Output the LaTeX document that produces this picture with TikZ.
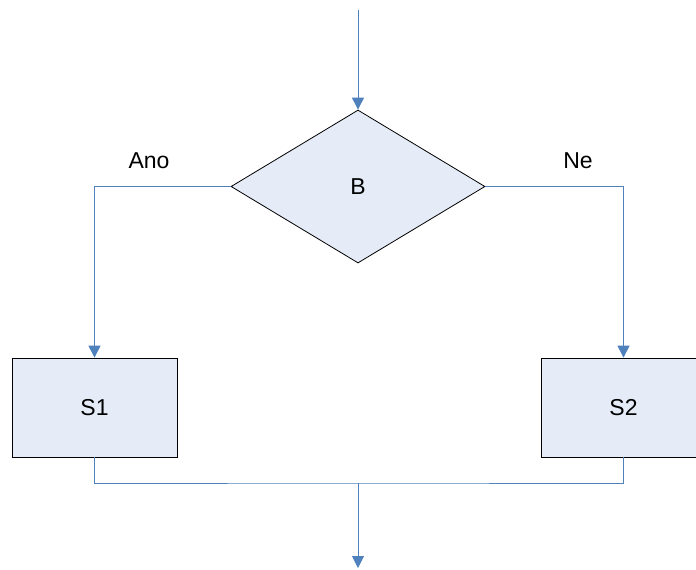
\documentclass[tikz,border=0pt]{standalone}
\usepackage{fontspec}
\setmainfont{Liberation Sans}
\usetikzlibrary{shapes.geometric,arrows.meta}
\definecolor{lineblue}{RGB}{79,129,189}
\definecolor{boxfill}{RGB}{229,236,247}
\tikzset{
  conn/.style={draw=lineblue, line width=1pt},
  arr/.style={conn, -{Triangle[width=12pt,length=12pt]}},
  dec/.style={diamond, draw=black, fill=boxfill, line width=0.8pt, minimum width=254pt, minimum height=153pt, inner sep=0pt, aspect=1.66},
  stepbox/.style={rectangle, draw=black, fill=boxfill, line width=0.8pt, minimum width=165pt, minimum height=99pt, inner sep=0pt},
  lbl/.style={font=\fontsize{23}{26}\selectfont}
}
\begin{document}
\begin{tikzpicture}[x=1pt,y=-1pt]
\useasboundingbox (0,0) rectangle (696,570);
\clip (0,0) rectangle (696,570);
\fill[white] (0,0) rectangle (696,570);
\coordinate (start) at (358,10);
\node[dec, lbl] (B) at (358,186.5) {B};
\node[stepbox, lbl] (S1) at (94.5,407.5) {S1};
\node[stepbox, lbl] (S2) at (623.5,407.5) {S2};
\coordinate (join) at (358,483);
\coordinate (end) at (358,568);
\node[lbl] (ano) at (149,161) {Ano};
\node[lbl] (ne) at (578,161) {Ne};
\draw[arr] (start) -- (B.north);
\draw[arr] (B.west) -| (S1.north);
\draw[arr] (B.east) -| (S2.north);
\draw[conn] (S1.south) |- (join) -| (S2.south);
\draw[arr] (join) -- (end);
\end{tikzpicture}
\end{document}
